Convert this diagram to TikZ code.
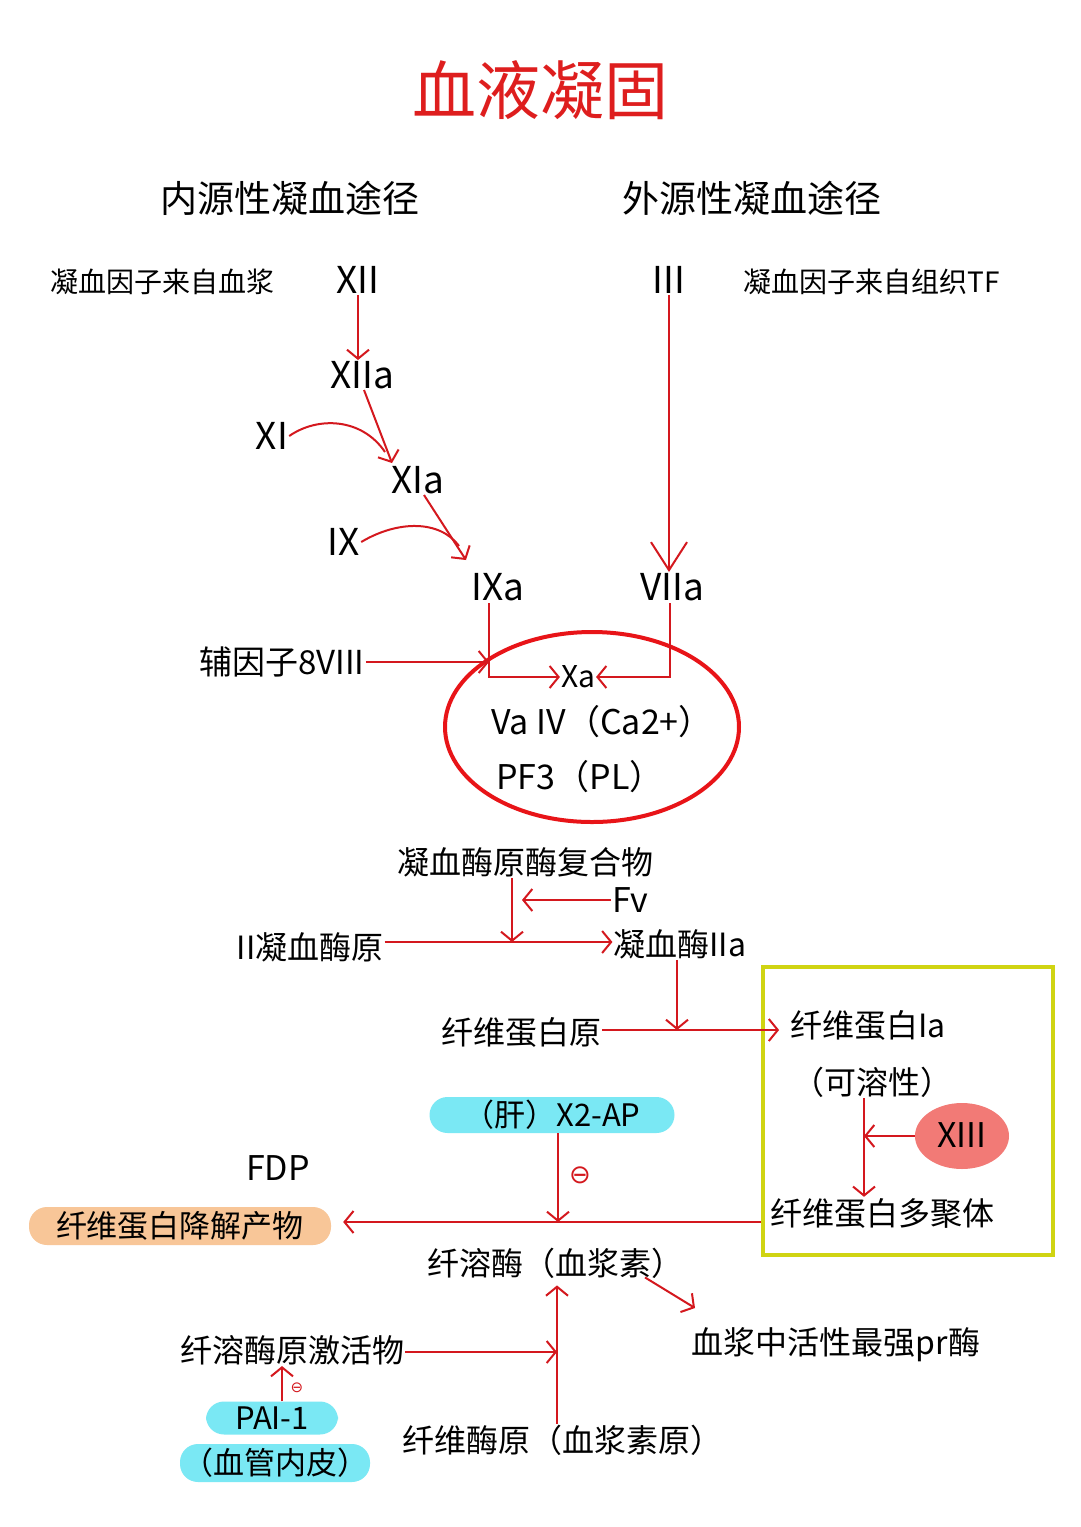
\documentclass[tikz,border=0pt]{standalone}
\usepackage{fontspec}
\setmainfont{Noto Sans CJK SC}
\newfontfamily\symfont{DejaVu Sans}
\usetikzlibrary{arrows.meta,shapes.geometric,calc}
\definecolor{arrred}{RGB}{212,24,30}
\definecolor{titred}{RGB}{222,30,30}
\definecolor{ellred}{RGB}{232,20,24}
\definecolor{yelbox}{RGB}{208,212,18}
\definecolor{cyanbg}{RGB}{122,232,244}
\definecolor{peachbg}{RGB}{248,198,152}
\definecolor{salmonbg}{RGB}{242,122,118}
\tikzset{
  lbl/.style={inner sep=1pt, font=\fontsize{30}{34}\selectfont},
  lat/.style={inner sep=1pt, font=\fontsize{37}{40}\selectfont},
  lblsm/.style={inner sep=1pt, font=\fontsize{28}{32}\selectfont},
  lblmd/.style={inner sep=1pt, font=\fontsize{32}{36}\selectfont},
  head/.style={inner sep=1pt, font=\fontsize{37}{40}\selectfont},
  arr/.style={draw=arrred, line width=2pt, -{Straight Barb[length=9pt,width=22pt,line width=2pt]}},
  bigarr/.style={draw=arrred, line width=2pt, -{Straight Barb[length=28pt,width=36pt,line width=2pt]}},
  ln/.style={draw=arrred, line width=2pt},
  pill/.style={inner sep=1pt, rounded corners=18pt, font=\fontsize{31}{34}\selectfont},
  inh/.style={inner sep=0pt, text=arrred, font=\symfont\fontsize{26}{28}\selectfont},
}
\begin{document}
\begin{tikzpicture}[x=1pt,y=-1pt]
\useasboundingbox (0,0) rectangle (1080,1527);
\fill[white] (0,0) rectangle (1080,1527);

% title and headings
\node[inner sep=0pt, text=titred, font=\fontsize{64}{68}\selectfont] (title) at (540,90) {血液凝固};
\node[head] (intr) at (290,198) {内源性凝血途径};
\node[head] (extr) at (752,198) {外源性凝血途径};
\node[lblsm] (srcp) at (162,282) {凝血因子来自血浆};
\node[lblsm] (srct) at (872,282) {凝血因子来自组织TF};

% intrinsic cascade
\node[lat] (xii) at (358,280) {XII};
\node[lat] (xiia) at (362,375) {XIIa};
\node[lat] (xi) at (272,436) {XI};
\node[lat] (xia) at (418,480) {XIa};
\node[lat] (ix) at (344,542) {IX};
\node[lat] (ixa) at (498,587) {IXa};
\node[lat] (iii) at (669,280) {III};
\node[lat] (viia) at (672,587) {VIIa};

\draw[arr] (xii.south) -- (xii.south |- xiia.north);
\draw[arr] ([xshift=2]xiia.south) -- (392,463);
\coordinate (m1) at (385,452);
\draw[ln] (xi.east) .. controls (318,416) and (362,418) .. (m1);
\draw[arr] ([xshift=6]xia.south) -- (466,560);
\coordinate (m2) at (459,546);
\draw[ln] (ix.east) .. controls (398,520) and (440,520) .. (m2);
\draw[bigarr] (iii.south) -- (iii.south |- viia.north);

% Xa complex
\node[draw=ellred, line width=4pt, ellipse, minimum width=294, minimum height=190] (ell) at (592,727) {};
\node[inner sep=1pt, font=\fontsize{33}{36}\selectfont] (viii) at (282,662) {辅因子8VIII};
\node[lbl] (xa) at (578,677) {Xa};
\node[inner sep=1pt, font=\fontsize{34}{38}\selectfont] (va) at (602,722) {Va IV（Ca2+）};
\node[inner sep=1pt, font=\fontsize{34}{38}\selectfont] (pf3) at (580,777) {PF3（PL）};
\coordinate (jx) at (489,603);
\coordinate (jv) at (670,603);
\draw[arr] (viii.east) -- (viii.east -| jx);
\draw[arr] (jx) |- (xa.west);
\draw[arr] (jv) |- (xa.east);

% thrombin
\node[lblmd] (pc) at (525,862) {凝血酶原酶复合物};
\node[lat, font=\fontsize{34}{38}\selectfont] (fv) at (630,900) {Fv};
\node[lblmd] (ii) at (310,947) {II凝血酶原};
\node[lblmd] (thr) at (680,944) {凝血酶IIa};
\coordinate (j1) at (512,942);
\draw[arr] (pc.south -| j1) -- (j1);
\draw[arr] (fv.west) -- ([xshift=10]fv.west -| j1);
\draw[arr] (ii.east |- j1) -- (thr.west |- j1);

% fibrin
\node[lblmd] (fg) at (521,1032) {纤维蛋白原};
\node[draw=yelbox, line width=4pt, minimum width=290, minimum height=288, inner sep=0pt] (box) at (908,1111) {};
\node[lblmd] (fia) at (868,1025) {纤维蛋白Ia};
\node[lblmd] (sol) at (872,1082) {（可溶性）};
\node[lblmd] (poly) at (882,1213) {纤维蛋白多聚体};
\node[ellipse, fill=salmonbg, minimum width=94, minimum height=66, inner sep=0pt] (x13bg) at (962,1136) {};
\node[lat, font=\fontsize{34}{38}\selectfont] (x13) at (962,1135) {XIII};
\coordinate (j2) at (677,1030);
\draw[arr] (thr.south -| j2) -- (j2);
\draw[arr] (fg.east |- j2) -- ([xshift=-10]fia.west |- j2);
\coordinate (j3) at (864,1138);
\draw[arr] (sol.south -| j3) -- (poly.north -| j3);
\draw[arr] (x13bg.west) -- (x13bg.west -| j3);

% fibrinolysis
\node[pill, fill=cyanbg, minimum width=245, minimum height=36] (ap) at (552,1115) {（肝）X2-AP};
\node[lat, font=\fontsize{34}{38}\selectfont] (fdp) at (278,1168) {FDP};
\node[pill, fill=peachbg, minimum width=302, minimum height=38] (fdpn) at (180,1226) {纤维蛋白降解产物};
\node[lblmd] (plasmin) at (555,1263) {纤溶酶（血浆素）};
\node[lblmd] (pr) at (836,1345) {血浆中活性最强pr酶};
\node[lblmd] (act) at (292,1350) {纤溶酶原激活物};
\node[lblmd] (plg) at (562,1440) {纤维酶原（血浆素原）};
\node[pill, fill=cyanbg, minimum width=132, minimum height=33] (pai) at (272,1418) {PAI-1};
\node[pill, fill=cyanbg, minimum width=190, minimum height=38] (endo) at (275,1463) {（血管内皮）};
\node[inh] (inh1) at (580,1175) {⊖};
\node[inh, font=\symfont\fontsize{15}{16}\selectfont] (inh2) at (297,1388) {⊖};

\coordinate (j4) at (558,1222);
\draw[arr] (ap.south -| j4) -- (j4);
\draw[arr] (box.west |- j4) -- ([xshift=12]fdpn.east |- j4);
\coordinate (prtip) at (695,1308);
\draw[arr] ([xshift=90,yshift=2]plasmin.south) -- (prtip);
\coordinate (j5) at (557,1352);
\draw[arr] (act.east |- j5) -- (j5);
\draw[arr] (plg.north -| j5) -- ([yshift=-6]plasmin.south -| j5);
\draw[arr] ([xshift=10]pai.north) -- ([xshift=10]pai.north |- act.south);
\end{tikzpicture}
\end{document}
